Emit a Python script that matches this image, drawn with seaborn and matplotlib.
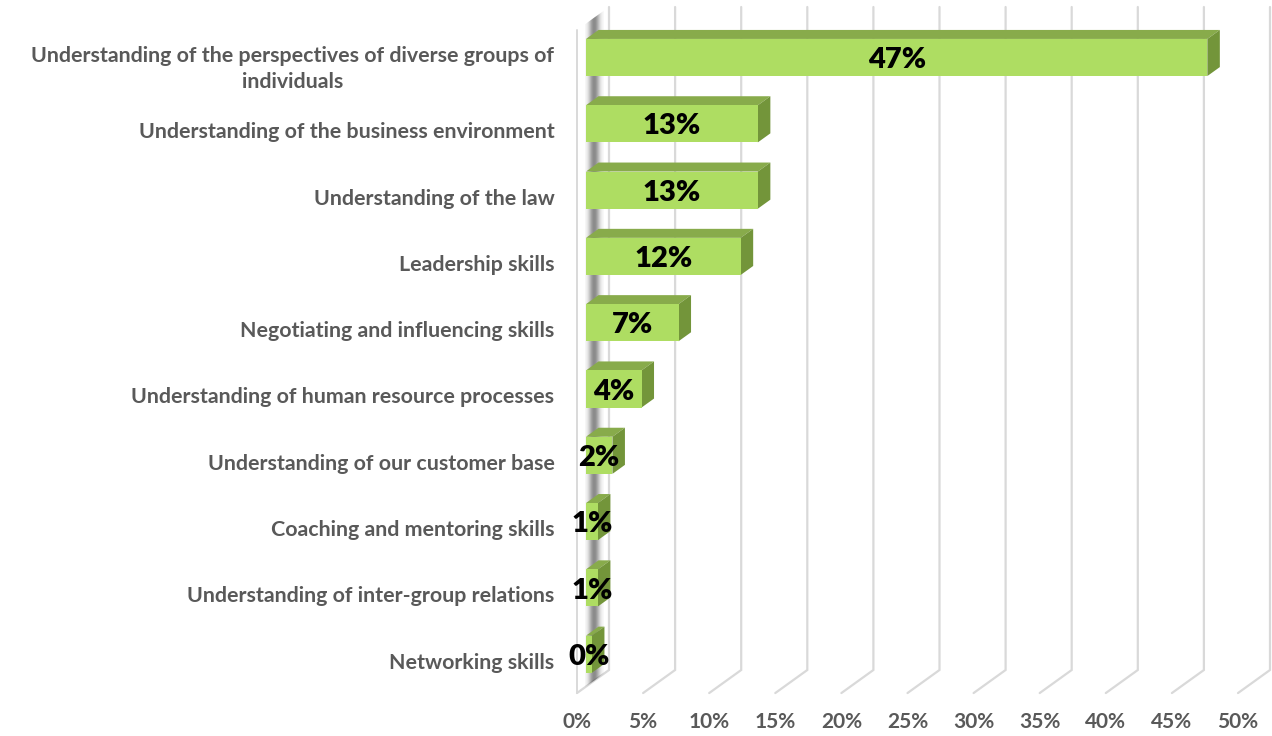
import numpy as np
import pandas as pd
import matplotlib
matplotlib.use("Agg")
import matplotlib.pyplot as plt
import seaborn as sns
from matplotlib.patches import Polygon
from matplotlib.transforms import ScaledTranslation

# ---- data -------------------------------------------------------------
skills = [
    "Understanding of the perspectives of diverse groups of\nindividuals",
    "Understanding of the business environment",
    "Understanding of the law",
    "Leadership skills",
    "Negotiating and influencing skills",
    "Understanding of human resource processes",
    "Understanding of our customer base",
    "Coaching and mentoring skills",
    "Understanding of inter-group relations",
    "Networking skills",
]
shares = [47, 13, 13, 11.7, 7, 4.2, 2, 0.9, 0.9, 0.45]
pct_ticks = [0, 5, 10, 15, 20, 25, 30, 35, 40, 45, 50]
pct_labels = [f"{t}%" for t in pct_ticks]

# ---- styling ------------------------------------------------------------
FRONT = "#AEDD62"
TOP = "#88AB4B"
SIDE = "#73953A"
GRID = "#D9D9D9"
TEXT = "#595959"
FONT = "Lato"

W, H, DPI = 1272, 736, 100
PX_PCT = 13.22     # pixels per percentage point
PX_ROW = 66.3      # pixels per category row
SLOPE = 0.72       # vertical rise per pixel of depth
AX_LEFT, AX_TOP, AX_BOTTOM = 560, 0, 700   # axes box in pixels
ZERO_PX = 586      # x pixel of 0% on the bar plane
ROW0_PX = 57.5     # y pixel of first row centre

sns.set_theme(style="white")
plt.rcParams["font.family"] = [FONT, "DejaVu Sans"]

fig = plt.figure(figsize=(W / DPI, H / DPI), dpi=DPI)
ax = fig.add_axes([AX_LEFT / W, (H - AX_BOTTOM) / H,
                   (W - AX_LEFT) / W, (AX_BOTTOM - AX_TOP) / H])


def depth(d):
    """Offset in data units for d pixels of depth (into the page)."""
    return d / PX_PCT, -SLOPE * d / PX_ROW


def ypix(p):
    return (p - ROW0_PX) / PX_ROW


df = pd.DataFrame({"skill": skills, "share": shares})
sns.barplot(data=df, x="share", y="skill", orient="h", color=FRONT,
            saturation=1, width=0.56, linewidth=0, ax=ax, zorder=4)

ax.set_xlim((AX_LEFT - ZERO_PX) / PX_PCT, (W - ZERO_PX) / PX_PCT)
ax.set_ylim(ypix(AX_BOTTOM), ypix(AX_TOP))

# ---- walls and gridlines ----------------------------------------------
FRONT_D, BACK_D = -9, 23
floor_back = ypix(670)
top_back = ypix(7)
fdx, fdy = depth(FRONT_D)
bdx, bdy = depth(BACK_D)
floor_front = floor_back + (fdy - bdy)
for t in pct_ticks:
    ax.plot([t + bdx, t + bdx, t + fdx], [top_back, floor_back, floor_front],
            color=GRID, lw=1.6, zorder=1, solid_joinstyle="miter")
# front edge of the side wall
wall_top_front = top_back + (fdy - bdy)
ax.plot([fdx, fdx], [wall_top_front, floor_front], color=GRID, lw=1.4, zorder=1)

# soft shadow on the side wall
for d in np.arange(-1, 18, 0.5):
    a = 0.72 * np.exp(-0.5 * ((d - 8.0) / 3.6) ** 2)
    x0, y0 = depth(d)
    x1, y1 = depth(d + 0.5)
    ytop0 = wall_top_front + (y0 - fdy)
    ytop1 = wall_top_front + (y1 - fdy)
    ybot0 = floor_front + (y0 - fdy)
    ybot1 = floor_front + (y1 - fdy)
    ax.add_patch(Polygon([(x0, ytop0), (x1, ytop1), (x1, ybot1), (x0, ybot0)],
                         closed=True, facecolor="#3A3A3A", edgecolor="none",
                         alpha=a, zorder=2))

# ---- 3D bar faces -------------------------------------------------------
ddx, ddy = depth(12.5)
for p, v in zip(ax.patches[:len(shares)], shares):
    x0, y0, w, h = p.get_x(), p.get_y(), p.get_width(), p.get_height()
    ax.add_patch(Polygon([(x0, y0), (x0 + w, y0), (x0 + w + ddx, y0 + ddy),
                          (x0 + ddx, y0 + ddy)], closed=True,
                         facecolor=TOP, edgecolor="none", zorder=3))
    ax.add_patch(Polygon([(x0 + w, y0), (x0 + w, y0 + h),
                          (x0 + w + ddx, y0 + h + ddy), (x0 + w + ddx, y0 + ddy)],
                         closed=True, facecolor=SIDE, edgecolor="none", zorder=3))
    ax.text(x0 + w / 2, y0 + h / 2 + 0.04, f"{v:.0f}%", ha="center", va="center",
            fontsize=21, fontweight="heavy", color="black", zorder=6)

# ---- axes text ----------------------------------------------------------
for s in ax.spines.values():
    s.set_visible(False)
ax.grid(False)
ax.set_xlabel("")
ax.set_ylabel("")
ax.set_xticks(pct_ticks)
ax.set_xticklabels(pct_labels)
ax.tick_params(axis="both", length=0)
ax.tick_params(axis="x", pad=9, labelsize=15, labelcolor=TEXT)
ax.tick_params(axis="y", pad=4, labelsize=15.4, labelcolor=TEXT)

shift_x = ScaledTranslation(FRONT_D / DPI, 0, fig.dpi_scale_trans)
for lab in ax.get_xticklabels():
    lab.set_fontweight("bold")
    lab.set_transform(lab.get_transform() + shift_x)
shift_y = ScaledTranslation(0, -6.5 / DPI, fig.dpi_scale_trans)
for lab in ax.get_yticklabels():
    lab.set_fontweight("bold")
    lab.set_multialignment("center")
    lab.set_linespacing(1.4)
    lab.set_transform(lab.get_transform() + shift_y)

fig.savefig("out.png", dpi=DPI)
